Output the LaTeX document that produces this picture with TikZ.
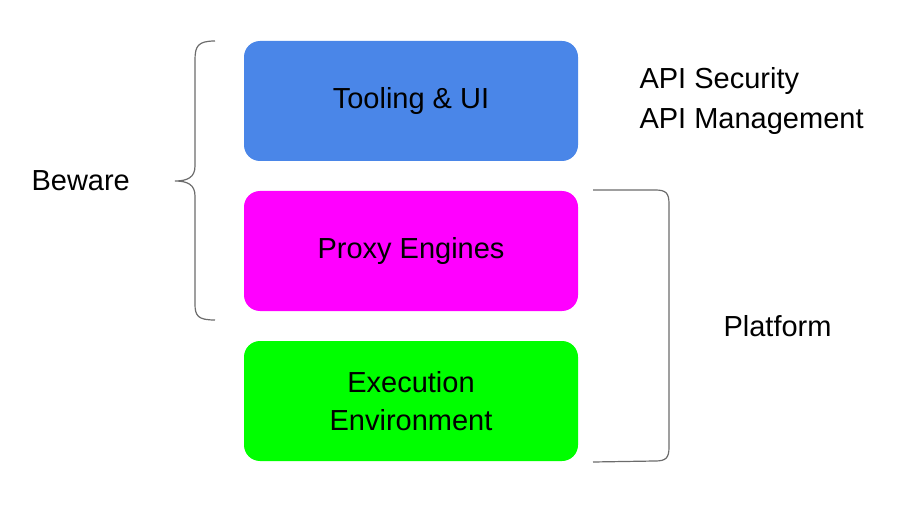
\documentclass[tikz,border=0pt]{standalone}
\usepackage{fontspec}
\setmainfont{Liberation Sans}
\begin{document}
\begin{tikzpicture}[x=1pt,y=-1pt,
  box/.style={rounded corners=16pt,draw=none,minimum width=334pt,minimum height=120pt,align=center,font=\fontsize{29}{38}\selectfont},
  lbl/.style={font=\fontsize{29}{40}\selectfont,align=left},
  br/.style={draw=gray!85!black,line width=1.2pt}]
\useasboundingbox (0,0) rectangle (919,516);
\node[box,fill={rgb,255:red,74;green,134;blue,232}] (t) at (411,101) {Tooling \& UI};
\node[box,fill={rgb,255:red,255;green,0;blue,255}] (p) at (411,251) {Proxy Engines};
\node[box,fill={rgb,255:red,0;green,255;blue,0}] (e) at (411,401) {Execution\\Environment};
\node[lbl,anchor=west] (b) at (28,181) {Beware};
\node[lbl,anchor=west] (a) at (636,101) {API Security\\API Management};
\node[lbl,anchor=west] (pl) at (720,326) {Platform};
\draw[br] (215,41) .. controls (198,41) and (195,46) .. (195,60) -- (195,166)
  .. controls (195,177) and (188,181) .. (175,181)
  .. controls (188,181) and (195,185) .. (195,196) -- (195,304)
  .. controls (195,316) and (198,320) .. (215,320);
\draw[br] (593,190) -- (655,190) .. controls (666,190) and (669,193) .. (669,204) -- (669,447)
  .. controls (669,458) and (666,461) .. (655,461) -- (593,462);
\end{tikzpicture}
\end{document}
